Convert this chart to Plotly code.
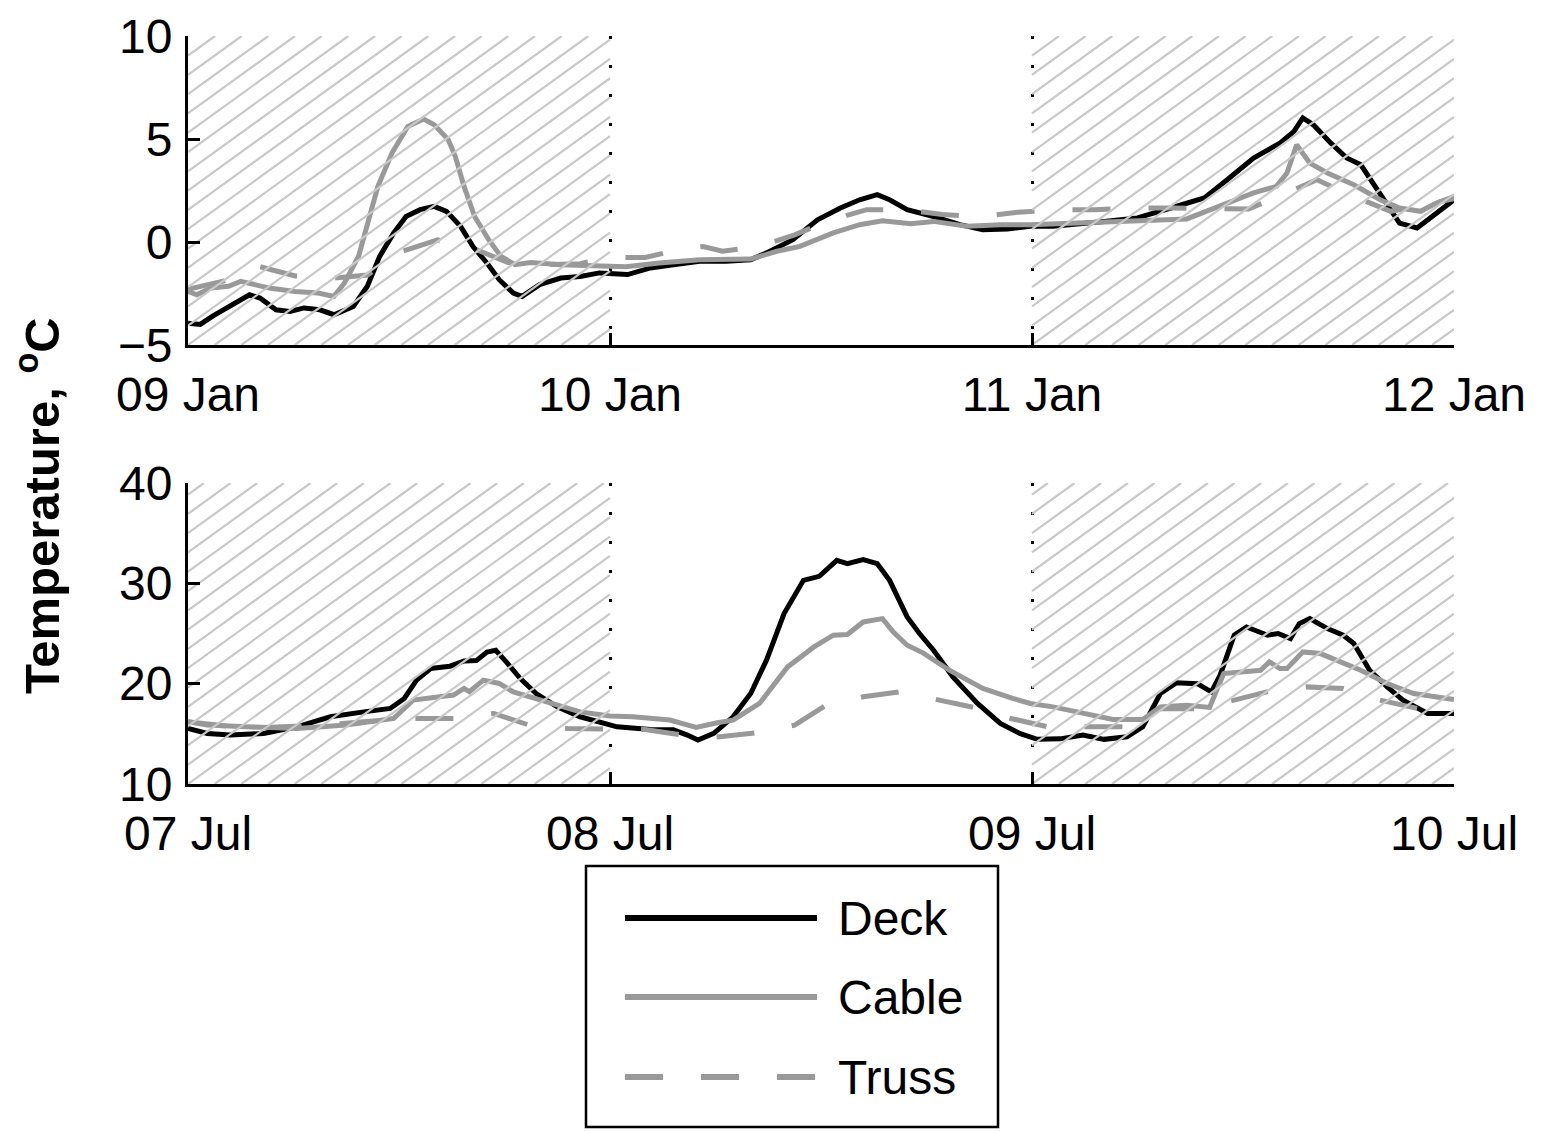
import plotly.graph_objects as go

# ---------------- data (x in hours from the first tick) ----------------
series_names = ["Deck", "Cable", "Truss"]

jan_ticktext = ["09 Jan", "10 Jan", "11 Jan", "12 Jan"]
jul_ticktext = ["07 Jul", "08 Jul", "09 Jul", "10 Jul"]
tick_hours = [0, 24, 48, 72]
shaded_periods = [(0, 24), (48, 72)]

jan_deck_h = [0, 0.7, 1.4, 2.4, 3.5, 4.1, 5.0, 5.8, 6.6, 7.5, 8.3, 9.4, 10.2, 10.9, 11.7,
              12.4, 13.2, 14.0, 14.7, 15.5, 16.2, 17.0, 17.7, 18.5, 19.0, 20.0, 21.2, 22.3,
              23.4, 25.0, 26.3, 27.6, 29.1, 30.6, 32.0, 32.9, 34.4, 35.8, 37.1, 38.2, 39.2,
              39.9, 40.9, 42.4, 43.9, 45.2, 46.6, 47.9, 49.2, 52.1, 54.0, 55.9, 57.8, 59.1,
              60.6, 62.1, 62.9, 63.4, 64.0, 65.0, 65.9, 66.7, 67.4, 68.2, 68.9, 69.9, 70.8, 72.0]
jan_deck_v = [-3.94, -4.0, -3.6, -3.13, -2.56, -2.72, -3.29, -3.37, -3.2, -3.29, -3.53, -3.13,
              -2.15, -0.7, 0.44, 1.24, 1.57, 1.73, 1.49, 0.76, -0.21, -1.02, -1.83, -2.48, -2.64,
              -2.07, -1.75, -1.67, -1.5, -1.58, -1.26, -1.1, -0.94, -0.94, -0.86, -0.53, 0.11,
              1.08, 1.65, 2.05, 2.3, 2.05, 1.57, 1.24, 0.84, 0.6, 0.63, 0.76, 0.76, 1.0, 1.17,
              1.65, 2.14, 3.02, 4.08, 4.8, 5.37, 6.02, 5.69, 4.8, 4.08, 3.75, 2.86, 1.89, 0.92,
              0.68, 1.24, 2.05]

jan_cable_h = [0, 0.5, 1.3, 2.3, 3.0, 3.8, 4.7, 6.1, 7.4, 8.3, 8.9, 9.7, 10.2, 10.8, 11.6,
               12.5, 13.4, 14.0, 14.8, 15.2, 15.7, 16.3, 17.1, 17.8, 18.6, 19.5, 21.2, 23.1,
               24.9, 26.8, 29.1, 32.0, 33.5, 34.8, 36.7, 38.2, 39.5, 41.1, 42.4, 44.3, 46.2,
               47.9, 51.1, 54.9, 56.8, 57.9, 59.1, 60.6, 61.9, 62.5, 63.05, 63.8, 64.8, 66.3,
               67.8, 68.9, 70.1, 71.0, 72.0]
jan_cable_v = [-2.4, -2.56, -2.23, -2.15, -1.91, -2.07, -2.25, -2.4, -2.48, -2.64, -1.99, -0.7,
               0.92, 2.7, 4.32, 5.61, 5.97, 5.69, 4.97, 4.16, 2.7, 1.24, 0.11, -0.7, -1.1, -1.0,
               -1.1, -1.18, -1.2, -1.02, -0.86, -0.83, -0.45, -0.21, 0.44, 0.84, 1.03, 0.89, 1.0,
               0.76, 0.84, 0.84, 0.92, 1.05, 1.12, 1.49, 1.89, 2.38, 2.7, 3.35, 4.72, 3.83, 3.35,
               2.78, 2.05, 1.65, 1.49, 1.89, 2.21]

jan_truss_h = [0, 2.0, 4.1, 6.1, 8.3, 10.2, 12.2, 14.2, 16.2, 18.2, 20.2, 22.3, 24.0, 26.0,
               28.3, 29.3, 30.4, 32.5, 34.5, 36.6, 38.6, 40.8, 42.9, 45.1, 47.2, 49.5, 51.6,
               53.9, 56.0, 58.3, 60.3, 62.5, 64.2, 66.3, 68.4, 70.3, 72.0]
jan_truss_v = [-2.3, -1.9, -1.2, -1.65, -1.75, -1.6, -0.45, 0.1, -0.3, -1.0, -1.1, -1.05,
               -0.75, -0.75, -0.3, -0.22, -0.45, -0.21, 0.35, 1.08, 1.57, 1.57, 1.33, 1.24,
               1.44, 1.57, 1.57, 1.65, 1.65, 1.6, 1.6, 2.38, 3.02, 2.21, 1.49, 1.8, 2.1]

jul_deck_h = [0, 1.1, 2.4, 4.3, 6.2, 8.1, 10.0, 11.5, 12.3, 13.0, 13.8, 14.9, 15.7, 16.4, 17.0,
              17.5, 18.1, 18.9, 19.8, 21.0, 22.3, 24.0, 24.4, 26.3, 27.6, 28.4, 29.0, 29.9,
              31.0, 32.0, 32.9, 33.9, 35.0, 35.9, 36.9, 37.5, 38.4, 39.2, 39.9, 40.9, 41.6,
              42.4, 43.5, 44.9, 46.2, 47.3, 48.3, 49.6, 50.9, 52.1, 53.4, 54.3, 55.3, 56.2,
              57.4, 58.2, 58.7, 59.5, 60.2, 61.4, 62.0, 62.7, 63.2, 63.8, 64.8, 65.7, 66.3,
              67.2, 68.2, 69.1, 70.5, 72.0]
jul_deck_v = [15.54, 15.04, 14.88, 15.04, 15.7, 16.7, 17.19, 17.53, 18.53, 20.35, 21.51, 21.74,
              22.27, 22.3, 23.16, 23.33, 22.17, 20.51, 19.02, 17.69, 16.7, 15.87, 15.7, 15.44,
              15.4, 14.88, 14.38, 15.04, 16.7, 19.02, 22.34, 26.99, 30.3, 30.7, 32.29, 31.96,
              32.36, 31.96, 30.3, 26.65, 25.0, 23.33, 20.68, 18.03, 16.04, 15.04, 14.45, 14.5,
              14.88, 14.45, 14.7, 15.7, 19.02, 20.08, 20.0, 19.18, 20.85, 24.83, 25.65, 24.83,
              25.0, 24.5, 25.99, 26.48, 25.49, 24.83, 24.0, 21.34, 19.68, 18.36, 17.03, 17.03]

jul_cable_h = [0, 1.1, 3.3, 6.2, 9.0, 11.7, 12.8, 15.1, 15.7, 16.0, 16.8, 17.7, 18.5, 20.4,
               22.3, 24.0, 25.3, 27.4, 28.9, 30.1, 31.0, 32.5, 34.1, 35.6, 36.7, 37.5, 38.4,
               39.5, 40.1, 40.9, 41.8, 43.3, 45.2, 46.9, 47.9, 49.2, 51.1, 52.6, 54.3, 55.3,
               56.8, 58.1, 58.9, 59.8, 61.0, 61.5, 62.1, 62.5, 63.4, 64.4, 65.3, 66.7, 68.2,
               69.7, 72.0]
jul_cable_v = [16.2, 15.87, 15.7, 15.54, 15.87, 16.53, 18.36, 18.86, 19.52, 19.2, 20.35, 20.02,
               19.18, 18.19, 17.19, 16.77, 16.7, 16.37, 15.64, 16.1, 16.37, 18.03, 21.67, 23.66,
               24.83, 24.9, 26.15, 26.48, 25.16, 23.83, 23.07, 21.34, 19.52, 18.53, 18.03, 17.69,
               17.03, 16.43, 16.43, 17.69, 17.86, 17.63, 21.01, 21.17, 21.34, 22.17, 21.5, 21.5,
               23.16, 23.0, 22.34, 21.34, 20.02, 19.02, 18.43]

jul_truss_h = [0, 2, 4, 6, 8, 10, 12, 13.1, 15.1, 17.4, 19.4, 21.6, 23.6, 26.0, 28.1, 30.25,
               32.3, 34.5, 36.3, 38.4, 40.5, 42.7, 44.7, 46.8, 48.9, 51.1, 53.3, 55.3, 57.3,
               59.5, 61.35, 63.6, 65.7, 67.8, 69.9, 72]
jul_truss_v = [16.2, 15.8, 15.6, 15.7, 15.9, 16.2, 16.5, 16.53, 16.53, 17.03, 15.87, 15.54,
               15.54, 15.44, 14.88, 14.7, 15.1, 15.87, 17.86, 18.69, 19.18, 18.43, 17.63, 16.53,
               15.7, 15.7, 15.7, 17.5, 17.5, 18.36, 19.18, 19.68, 19.52, 18.36, 17.53, 17.3]

# ---------------- styling / layout constants ----------------
FIG_W, FIG_H = 1551, 1131
FONT = "Liberation Sans, Arial, Helvetica, sans-serif"
FS = 48
GRAY = "#999999"
HATCH = "#c8c8c8"
X_DOM = [188 / FIG_W, 1454 / FIG_W]
Y_DOM_TOP = [1 - 345 / FIG_H, 1 - 36 / FIG_H]
Y_DOM_BOT = [1 - 784 / FIG_H, 1 - 483 / FIG_H]
X_RANGE = [0, 72]
Y_RANGE_TOP = [-5, 10]
Y_RANGE_BOT = [10, 40]

styles = {
    "Deck": dict(color="black", width=5, dash="solid"),
    "Cable": dict(color=GRAY, width=5, dash="solid"),
    "Truss": dict(color=GRAY, width=5, dash="38px,38px"),
}


def hatch_lines(x0, x1, xr, yr, xdom, ydom, spacing=26.67, slope=0.7236):
    wpx = (xdom[1] - xdom[0]) * FIG_W
    hpx = (ydom[1] - ydom[0]) * FIG_H
    ppx = wpx / (xr[1] - xr[0])
    ppy = hpx / (yr[1] - yr[0])
    X0 = (x0 - xr[0]) * ppx
    X1 = (x1 - xr[0]) * ppx
    xs, ys = [], []
    kmin = -int(hpx / slope / spacing) - 2
    kmax = int((X1 - X0) / spacing) + 2
    for k in range(kmin, kmax + 1):
        u = X0 + k * spacing
        ylo = max(0.0, (X0 - u) * slope)
        yhi = min(hpx, (X1 - u) * slope)
        if yhi <= ylo:
            continue
        xa, xb = u + ylo / slope, u + yhi / slope
        xs += [xr[0] + xa / ppx, xr[0] + xb / ppx, None]
        ys += [yr[0] + ylo / ppy, yr[0] + yhi / ppy, None]
    return xs, ys


fig = go.Figure()

panels = [
    ("x", "y", Y_RANGE_TOP, Y_DOM_TOP,
     [(jan_deck_h, jan_deck_v), (jan_cable_h, jan_cable_v), (jan_truss_h, jan_truss_v)]),
    ("x2", "y2", Y_RANGE_BOT, Y_DOM_BOT,
     [(jul_deck_h, jul_deck_v), (jul_cable_h, jul_cable_v), (jul_truss_h, jul_truss_v)]),
]

for xa, ya, yr, ydom, data in panels:
    for name, (hx, hv) in zip(series_names, data):
        st = styles[name]
        fig.add_trace(go.Scatter(x=hx, y=hv, mode="lines", name=name, xaxis=xa, yaxis=ya,
                                 line=dict(color=st["color"], width=st["width"], dash=st["dash"]),
                                 showlegend=False, hoverinfo="skip"))
    hx_all, hy_all = [], []
    for (a, b) in shaded_periods:
        hx, hy = hatch_lines(a, b, X_RANGE, yr, X_DOM, ydom)
        hx_all += hx
        hy_all += hy
    fig.add_trace(go.Scatter(x=hx_all, y=hy_all, mode="lines", xaxis=xa, yaxis=ya,
                             line=dict(color=HATCH, width=2.2), showlegend=False,
                             hoverinfo="skip"))

xcommon = dict(range=X_RANGE, domain=X_DOM, tickvals=tick_hours, showline=True,
               linecolor="black", linewidth=3, ticks="inside", ticklen=12, tickwidth=3,
               tickcolor="black", showgrid=True, gridcolor="black", gridwidth=3,
               griddash="3px,26px", zeroline=False, automargin=False,
               tickfont=dict(family=FONT, size=FS, color="black"), ticklabelstandoff=5)
ycommon = dict(showline=True, linecolor="black", linewidth=3, ticks="inside", ticklen=12,
               tickwidth=3, tickcolor="black", showgrid=False, zeroline=False,
               automargin=False, tickfont=dict(family=FONT, size=FS, color="black"),
               ticklabelstandoff=3)

fig.update_layout(
    template="none",
    width=FIG_W, height=FIG_H, margin=dict(l=0, r=0, t=0, b=0, pad=0),
    paper_bgcolor="white", plot_bgcolor="white", showlegend=False,
    xaxis=dict(anchor="y", ticktext=jan_ticktext, **xcommon),
    yaxis=dict(anchor="x", domain=Y_DOM_TOP, range=Y_RANGE_TOP, tickvals=[-5, 0, 5, 10],
               ticktext=["\u22125", "0", "5", "10"], **ycommon),
    xaxis2=dict(anchor="y2", ticktext=jul_ticktext, **xcommon),
    yaxis2=dict(anchor="x2", domain=Y_DOM_BOT, range=Y_RANGE_BOT, tickvals=[10, 20, 30, 40],
                ticktext=["10", "20", "30", "40"], **ycommon),
)

# y-axis title shared
fig.add_annotation(text="<b>Temperature, <sup>o</sup>C</b>", xref="paper", yref="paper",
                   x=38 / FIG_W, y=1 - 506 / FIG_H, textangle=-90, showarrow=False,
                   font=dict(family=FONT, size=49, color="black"),
                   xanchor="center", yanchor="middle")

# custom legend box
LEG_X0, LEG_X1, LEG_Y0, LEG_Y1 = 586, 998, 866, 1127
fig.add_shape(type="rect", xref="paper", yref="paper",
              x0=LEG_X0 / FIG_W, x1=LEG_X1 / FIG_W, y0=1 - LEG_Y1 / FIG_H, y1=1 - LEG_Y0 / FIG_H,
              line=dict(color="black", width=2.5), fillcolor="white", layer="above")
legend_rows = [918, 997, 1077]
for name, ry in zip(series_names, legend_rows):
    st = styles[name]
    fig.add_shape(type="line", xref="paper", yref="paper",
                  x0=625 / FIG_W, x1=817 / FIG_W, y0=1 - ry / FIG_H, y1=1 - ry / FIG_H,
                  line=dict(color=st["color"], width=st["width"] + 1, dash=st["dash"]))
    fig.add_annotation(text=name, xref="paper", yref="paper", x=836 / FIG_W,
                       y=1 - ry / FIG_H, xanchor="left", yanchor="middle", showarrow=False,
                       font=dict(family=FONT, size=FS, color="black"))

fig.write_html("out.html")
